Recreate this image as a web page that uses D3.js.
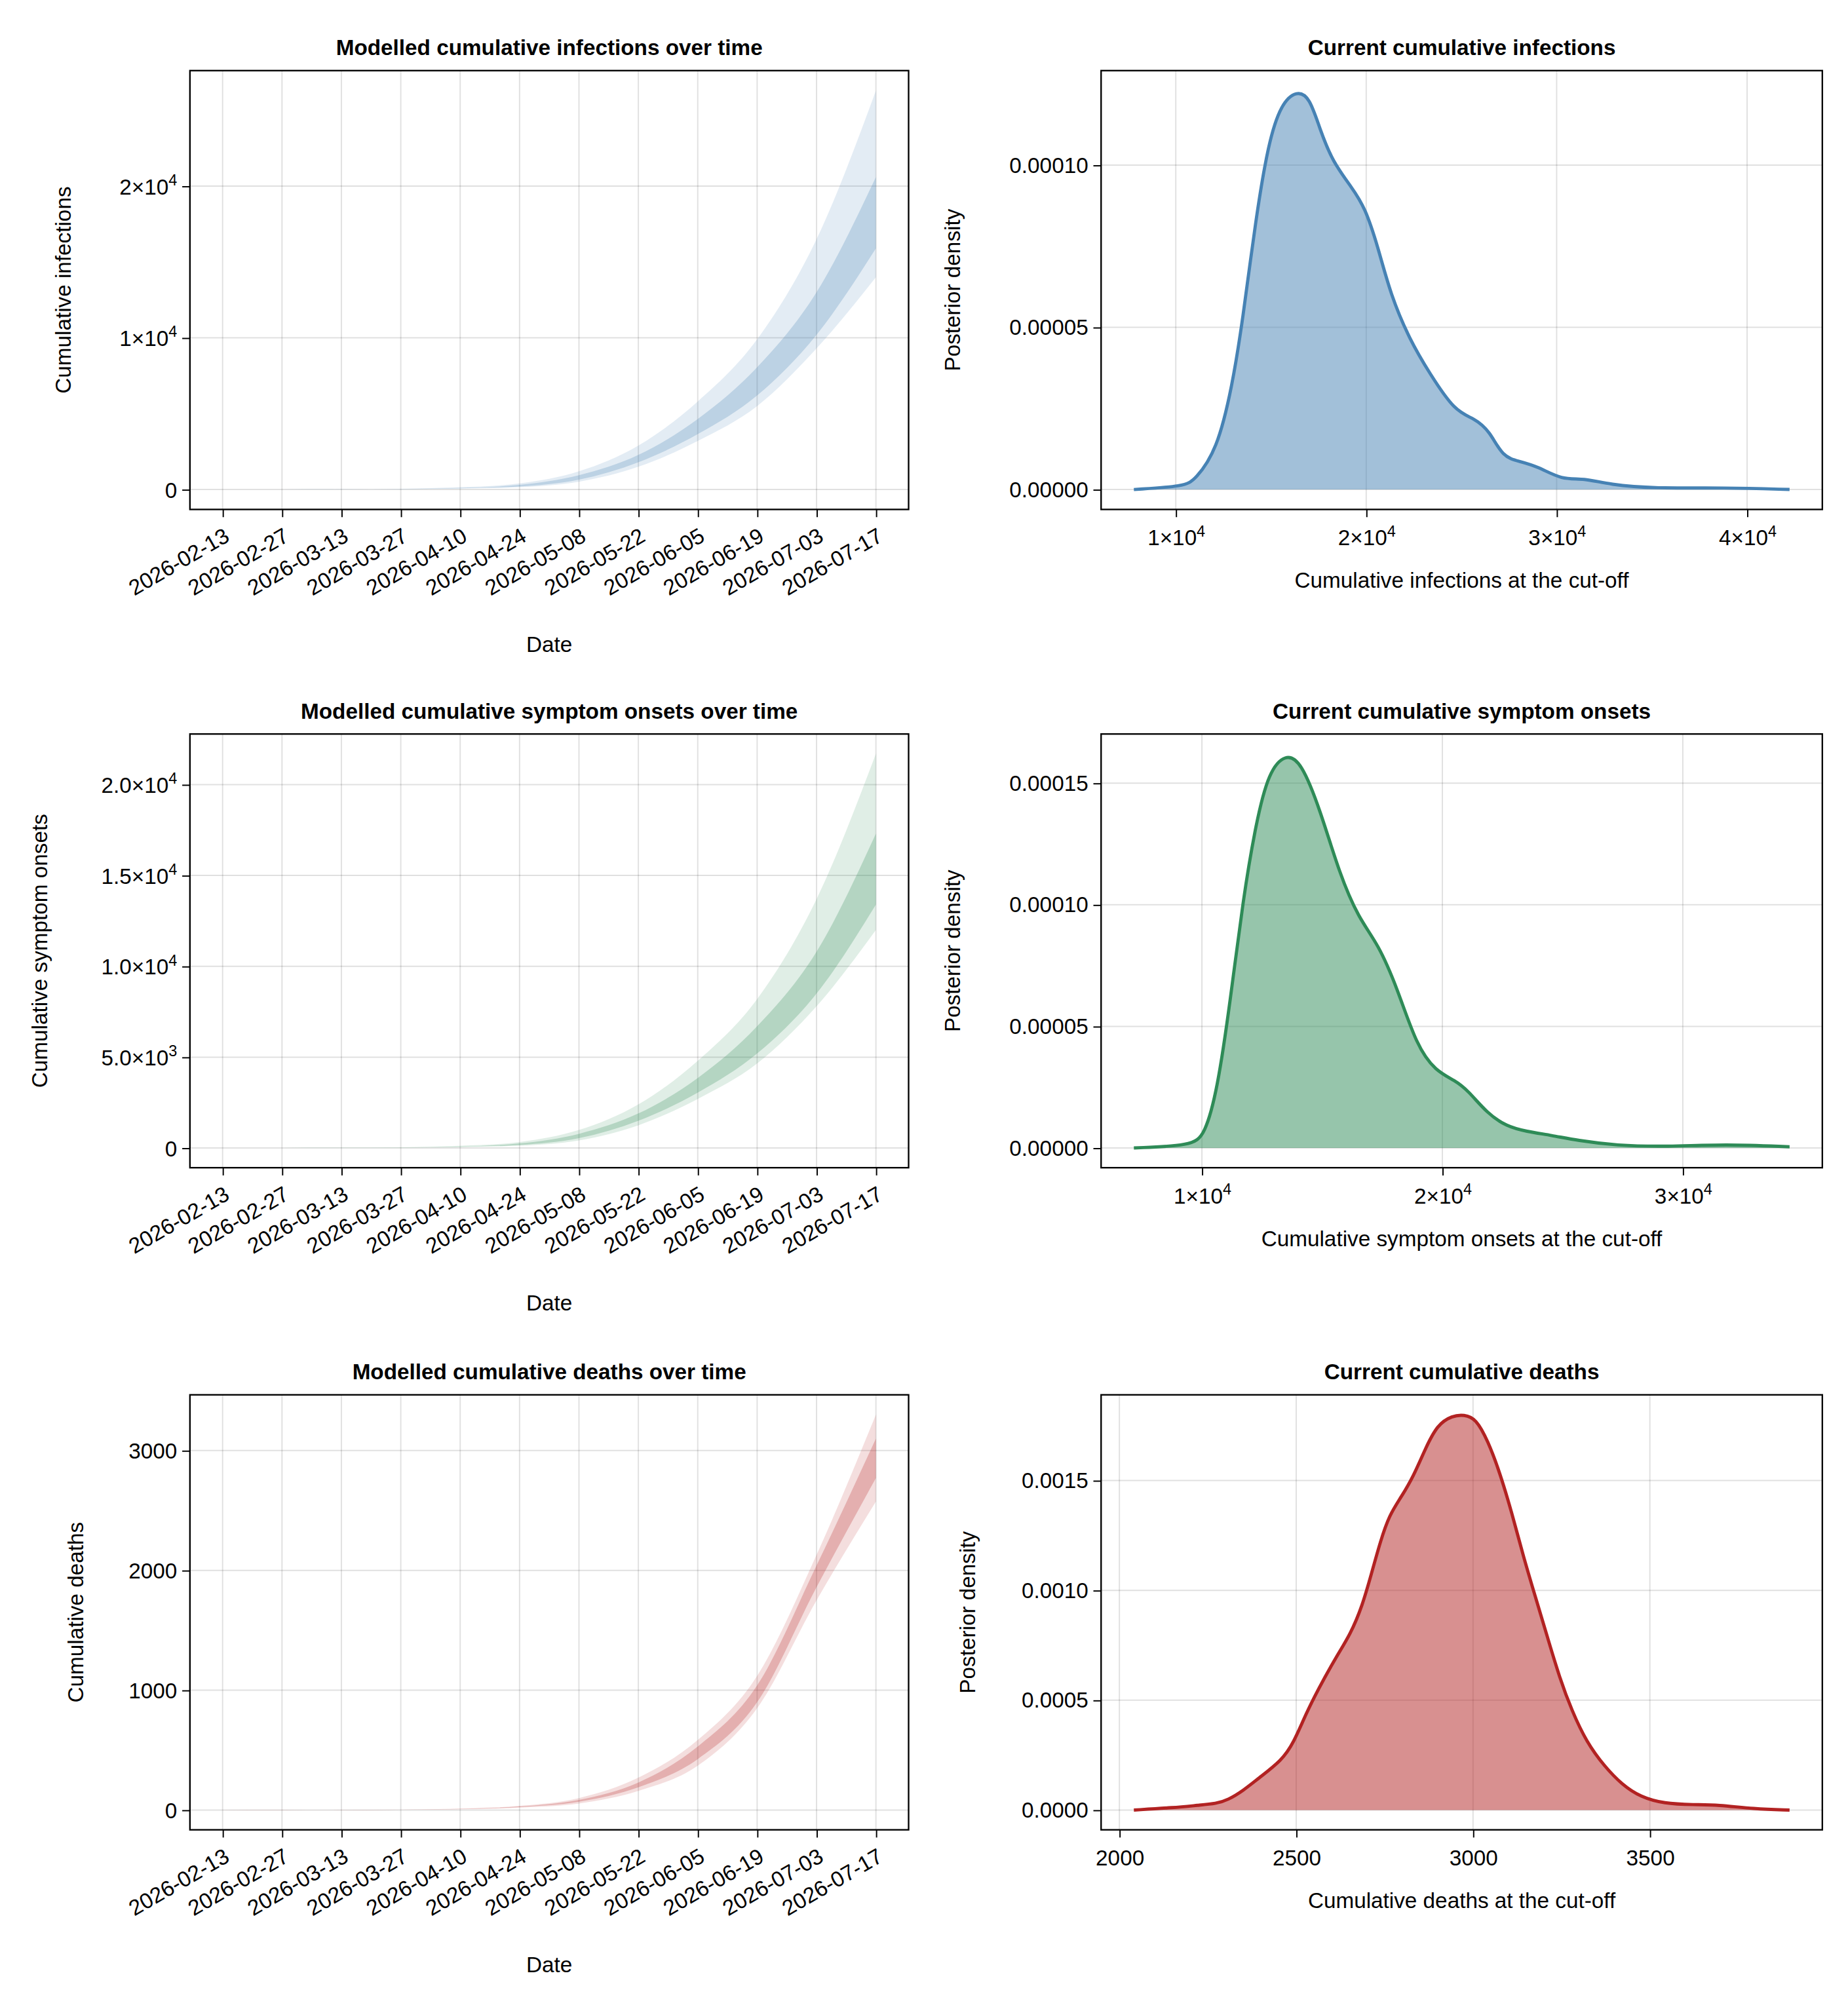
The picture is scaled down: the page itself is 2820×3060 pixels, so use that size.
<!DOCTYPE html>
<html><head><meta charset="utf-8">
<script src="https://cdn.jsdelivr.net/npm/d3@7"></script>
<style>body{margin:0;background:#fff}text{font-family:"Liberation Sans",Arial,sans-serif;fill:#000}</style>
</head><body>
<script>
const W = 1440, H = 1562.5;
const svg = d3.select('body').append('svg')
   .attr("width", 2820).attr("height", 3060)
   .attr("viewBox", `0 0 ${W} ${H}`);

const dates = ["2026-02-13","2026-02-27","2026-03-13","2026-03-27","2026-04-10","2026-04-24",
  "2026-05-08","2026-05-22","2026-06-05","2026-06-19","2026-07-03","2026-07-17"];

// [outer hi, inner hi, inner lo, outer lo] at each date
const series = {
  infections: [[1,1,0,0],[5,3,2,1],[15,10,7,5],[50,35,25,20],[150,100,80,60],[400,300,200,150],
    [1200,940,650,510],[2900,2280,1800,1500],[5800,4650,3650,3200],[9900,8060,6200,5500],
    [16500,13000,10200,9300],[26300,20600,15900,14000]],
  onsets: [[0,0,0,0],[4,2,2,1],[12,8,6,4],[40,28,20,16],[120,82,65,50],[330,250,165,125],
    [990,780,540,420],[2400,1900,1500,1250],[4800,3850,3050,2700],[8200,6700,5200,4650],
    [13700,10800,8500,7800],[21700,17300,13400,12000]],
  deaths: [[1,0,0,0],[1,1,0,0],[2,1,1,0],[4,3,2,2],[12,10,8,6],[35,30,25,20],
    [100,85,70,55],[270,230,190,160],[585,530,425,370],[1120,1040,900,850],
    [2130,2040,1860,1750],[3300,3100,2770,2575]]
};

const dens = {
  infections: [[7800,0],[10470,0.000001],[11010,0.000003],[12160,0.000012],[12970,0.000032],[13510,0.000052],
    [14190,0.000083],[14860,0.000107],[15540,0.000119],[16350,0.000123],[17030,0.000121],[17570,0.000111],
    [18240,0.000101],[19260,0.000093],[19930,0.000087],[20610,0.000075],[21280,0.000060],[22300,0.000046],
    [23310,0.000036],[24660,0.000024],[25680,0.000022],[26490,0.000018],[27160,0.000010],[28050,0.0000087],
    [29050,0.000007],[30270,0.000003],[31420,0.0000035],[32770,0.0000015],[35140,0.0000003],[38850,0.0000006],[42230,0]],
  onsets: [[7170,0],[9570,0.000001],[10110,0.0000052],[10640,0.0000236],[11180,0.0000604],[11710,0.0001023],
    [12250,0.0001338],[12780,0.0001548],[13480,0.0001621],[14120,0.000159],[14920,0.000139],[15720,0.0001128],
    [16520,0.0000944],[17330,0.0000839],[18130,0.0000656],[18930,0.000042],[19730,0.0000315],[20530,0.0000278],
    [21070,0.0000236],[21870,0.0000142],[22670,0.0000089],[23480,0.0000068],[24550,0.0000052],[25610,0.0000031],
    [27220,0.000001],[29360,0.0000005],[31760,0.0000016],[34440,0.0000005]],
  deaths: [[2041,0],[2155,0.000011],[2223,0.000022],[2274,0.000029],[2307,0.000046],[2350,0.000088],
    [2392,0.000143],[2459,0.000225],[2493,0.000307],[2527,0.000436],[2561,0.000546],[2611,0.000692],
    [2654,0.000802],[2687,0.00093],[2713,0.001077],[2738,0.001223],[2763,0.001342],[2797,0.001425],
    [2831,0.001517],[2865,0.001645],[2899,0.001754],[2941,0.001795],[2975,0.0018],[3008,0.001782],
    [3042,0.001681],[3076,0.001535],[3110,0.001352],[3143,0.00115],[3177,0.000967],[3211,0.000784],
    [3245,0.000601],[3279,0.000454],[3321,0.000309],[3372,0.000198],[3422,0.000115],[3473,0.00006],
    [3540,0.000029],[3625,0.000024],[3692,0.000024],[3794,0.000005],[3895,0]]
};

const panels = [
  {key:"infections", color:"#4682b4", top:55, bot:397, ylab:"Cumulative infections", ylx:55,
   yt:[0,1e4,2e4], title:"Modelled cumulative infections over time",
   dtitle:"Current cumulative infections", dxlab:"Cumulative infections at the cut-off",
   dxt:[1e4,2e4,3e4,4e4], dyt:[0,5e-5,1e-4], dyf:5, dylx:748},
  {key:"onsets", color:"#2e8b57", top:572, bot:910, ylab:"Cumulative symptom onsets", ylx:37,
   yt:[0,5e3,1e4,1.5e4,2e4], title:"Modelled cumulative symptom onsets over time",
   dtitle:"Current cumulative symptom onsets", dxlab:"Cumulative symptom onsets at the cut-off",
   dxt:[1e4,2e4,3e4], dyt:[0,5e-5,1e-4,1.5e-4], dyf:5, dylx:748},
  {key:"deaths", color:"#b22222", top:1087, bot:1426, ylab:"Cumulative deaths", ylx:65,
   yt:[0,1000,2000,3000], title:"Modelled cumulative deaths over time",
   dtitle:"Current cumulative deaths", dxlab:"Cumulative deaths at the cut-off",
   dxt:[2000,2500,3000,3500], dyt:[0,5e-4,1e-3,1.5e-3], dyf:4, dylx:760}
];

const parse = d3.utcParse("%Y-%m-%d");

function sciLabel(sel, v, dec) {
  if (v === 0) { sel.text("0"); return; }
  const e = Math.floor(Math.log10(v));
  const m = v / Math.pow(10, e);
  sel.append("tspan").text((dec ? m.toFixed(1) : m.toFixed(0)) + "×10");
  sel.append("tspan").attr("dy", -7).attr("font-size", 12).text(e);
}

function pad(ext) { const a = +ext[0], b = +ext[1], d = (b-a)*0.05; return [a-d, b+d]; }

function frame(g, x0, x1, y0, y1) {
  g.append("rect").attr("x", x0).attr("y", y0).attr("width", x1-x0).attr("height", y1-y0)
    .attr("fill", "none").attr("stroke", "#000").attr("stroke-width", 1.2);
}

function grid(g, xs, ys, x0, x1, y0, y1) {
  g.selectAll(null).data(xs).enter().append("line")
    .attr("x1", d=>d).attr("x2", d=>d).attr("y1", y0).attr("y2", y1)
    .attr("stroke", "rgba(0,0,0,0.12)");
  g.selectAll(null).data(ys).enter().append("line")
    .attr("y1", d=>d).attr("y2", d=>d).attr("x1", x0).attr("x2", x1)
    .attr("stroke", "rgba(0,0,0,0.12)");
}

panels.forEach(p => {
  // ---- left: bands over time
  const L0 = 148, L1 = 708;
  const rows = series[p.key].map((r, i) => ({d: parse(dates[i]), v: r}));
  const x = d3.scaleUtc().domain(pad([rows[0].d, rows[rows.length-1].d]).map(t => new Date(t))).range([L0, L1]);
  const y = d3.scaleLinear().domain(pad([0, d3.max(rows, r => r.v[0])])).range([p.bot, p.top]);
  const g = svg.append("g");
  grid(g, rows.map(r => x(r.d)), p.yt.map(y), L0, L1, p.top, p.bot);
  const outer = d3.area().curve(d3.curveMonotoneX).x(r => x(r.d)).y0(r => y(r.v[3])).y1(r => y(r.v[0]));
  const inner = d3.area().curve(d3.curveMonotoneX).x(r => x(r.d)).y0(r => y(r.v[2])).y1(r => y(r.v[1]));
  g.append("path").datum(rows).attr("d", outer).attr("fill", p.color).attr("fill-opacity", 0.15);
  g.append("path").datum(rows).attr("d", inner).attr("fill", p.color).attr("fill-opacity", 0.25);
  frame(g, L0, L1, p.top, p.bot);

  const xa = g.append("g").attr("transform", `translate(0,${p.bot})`)
    .call(d3.axisBottom(x).tickValues(rows.map(r => r.d)).tickFormat(d3.utcFormat("%Y-%m-%d")).tickSize(6).tickSizeOuter(0));
  xa.select(".domain").remove();
  xa.selectAll("text").attr("font-size", 17).attr("text-anchor", "end")
    .attr("y", 0).attr("dy", 0)
    .attr("transform", "translate(6,24) rotate(-30)");
  const ya = g.append("g").attr("transform", `translate(${L0},0)`)
    .call(d3.axisLeft(y).tickValues(p.yt).tickFormat("").tickSize(6).tickSizeOuter(0));
  ya.select(".domain").remove();
  ya.selectAll(".tick").append("text").attr("x", -10).attr("dy", "0.35em")
    .attr("text-anchor", "end").attr("font-size", 17)
    .each(function(v) {
      const s = d3.select(this);
      if (p.key === "deaths") s.text(v);
      else sciLabel(s, v, p.key === "onsets");
    });
  g.append("text").attr("x", (L0+L1)/2).attr("y", p.top-12).attr("text-anchor", "middle")
    .attr("font-size", 17).attr("font-weight", "bold").text(p.title);
  g.append("text").attr("x", (L0+L1)/2).attr("y", p.bot+111).attr("text-anchor", "middle")
    .attr("font-size", 17).text("Date");
  g.append("text").attr("transform", `translate(${p.ylx},${(p.top+p.bot)/2}) rotate(-90)`)
    .attr("text-anchor", "middle").attr("font-size", 17).text(p.ylab);

  // ---- right: posterior density
  const R0 = 858, R1 = 1420;
  const pts = dens[p.key];
  const dx = d3.scaleLinear().domain(pad(d3.extent(pts, d => d[0]))).range([R0, R1]);
  const dy = d3.scaleLinear().domain(pad([0, d3.max(pts, d => d[1])])).range([p.bot, p.top]);
  const h = svg.append("g");
  grid(h, p.dxt.map(dx), p.dyt.map(dy), R0, R1, p.top, p.bot);
  h.append("path").datum(pts)
    .attr("d", d3.area().curve(d3.curveBasis).x(d => dx(d[0])).y0(dy(0)).y1(d => dy(d[1])))
    .attr("fill", p.color).attr("fill-opacity", 0.5);
  h.append("path").datum(pts)
    .attr("d", d3.line().curve(d3.curveBasis).x(d => dx(d[0])).y(d => dy(d[1])))
    .attr("fill", "none").attr("stroke", p.color).attr("stroke-width", 2.5);
  frame(h, R0, R1, p.top, p.bot);
  const dxa = h.append("g").attr("transform", `translate(0,${p.bot})`)
    .call(d3.axisBottom(dx).tickValues(p.dxt).tickFormat("").tickSize(6).tickSizeOuter(0));
  dxa.select(".domain").remove();
  dxa.selectAll(".tick").append("text").attr("y", 28).attr("text-anchor", "middle").attr("font-size", 17)
    .each(function(v) {
      const s = d3.select(this);
      if (p.key === "deaths") s.text(v); else sciLabel(s, v, false);
    });
  const dya = h.append("g").attr("transform", `translate(${R0},0)`)
    .call(d3.axisLeft(dy).tickValues(p.dyt).tickFormat(d => d.toFixed(p.dyf)).tickSize(6).tickSizeOuter(0));
  dya.select(".domain").remove();
  dya.selectAll("text").attr("font-size", 17).attr("x", -10);
  h.append("text").attr("x", (R0+R1)/2).attr("y", p.top-12).attr("text-anchor", "middle")
    .attr("font-size", 17).attr("font-weight", "bold").text(p.dtitle);
  h.append("text").attr("x", (R0+R1)/2).attr("y", p.bot+61).attr("text-anchor", "middle")
    .attr("font-size", 17).text(p.dxlab);
  h.append("text").attr("transform", `translate(${p.dylx},${(p.top+p.bot)/2}) rotate(-90)`)
    .attr("text-anchor", "middle").attr("font-size", 17).text("Posterior density");
});
svg.selectAll(".tick line").attr("stroke", "#000");
</script>
</body></html>
